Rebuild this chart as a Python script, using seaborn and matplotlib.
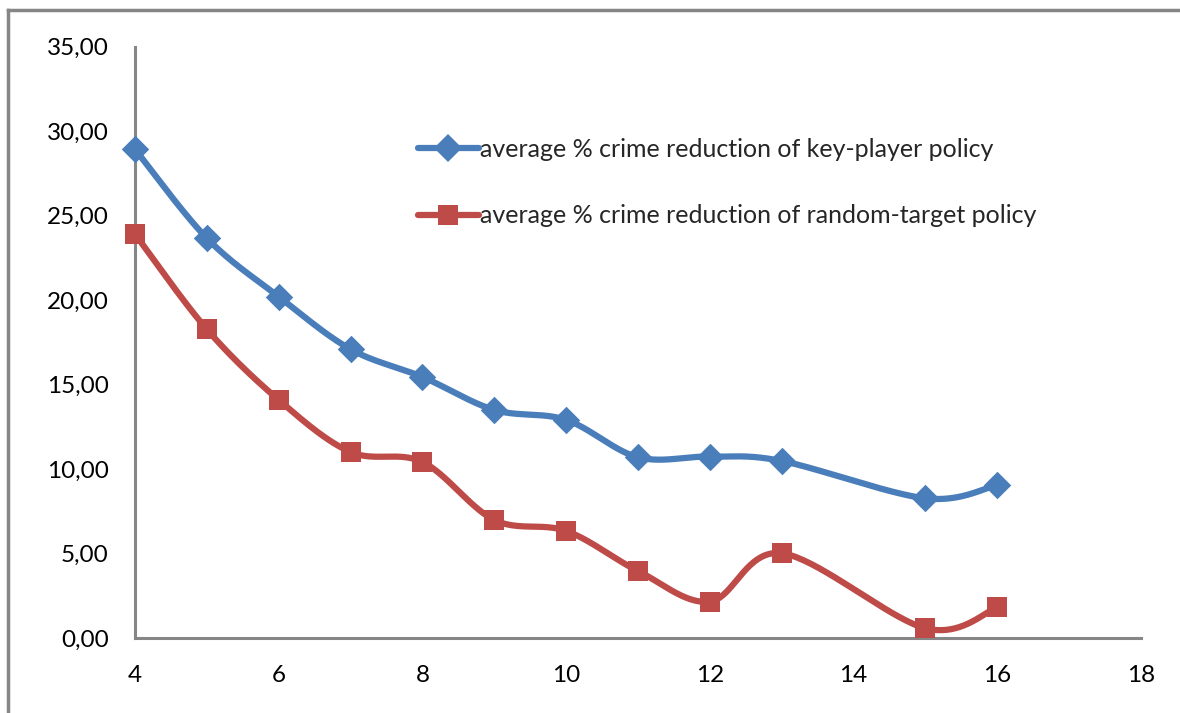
import numpy as np
import pandas as pd
import matplotlib
matplotlib.use("Agg")
import matplotlib.pyplot as plt
from matplotlib.lines import Line2D
import seaborn as sns

# Number of targeted players (x) and average % crime reduction per policy
players = [4, 5, 6, 7, 8, 9, 10, 11, 12, 13, 15, 16]
key_player = [28.93, 23.67, 20.21, 17.10, 15.46, 13.51, 12.92, 10.71, 10.75, 10.49, 8.28, 9.07]
random_target = [23.91, 18.28, 14.10, 11.02, 10.43, 7.00, 6.35, 3.98, 2.17, 5.03, 0.59, 1.83]

label_key = "average % crime reduction of key-player policy"
label_rand = "average % crime reduction of random-target policy"

x_ticks = [4, 6, 8, 10, 12, 14, 16, 18]
y_ticks = [0, 5, 10, 15, 20, 25, 30, 35]

BLUE = "#4A7EBB"
RED = "#BE4B48"


def smooth_curve(xs, ys, steps=40):
    """Spreadsheet-style smoothed line: cubic Bezier segments with
    Catmull-Rom control points through every data point."""
    p = np.column_stack([xs, ys]).astype(float)
    n = len(p)
    out = []
    for i in range(n - 1):
        p0 = p[i - 1] if i > 0 else p[i]
        p1, p2 = p[i], p[i + 1]
        p3 = p[i + 2] if i + 2 < n else p[i + 1]
        c1 = p1 + (p2 - p0) / 6.0
        c2 = p2 - (p3 - p1) / 6.0
        t = np.linspace(0, 1, steps)[:, None]
        seg = ((1 - t) ** 3) * p1 + 3 * ((1 - t) ** 2) * t * c1 + 3 * (1 - t) * t ** 2 * c2 + t ** 3 * p2
        out.append(seg if i == 0 else seg[1:])
    c = np.vstack(out)
    return pd.DataFrame({"x": c[:, 0], "y": c[:, 1]})


sns.set_theme(style="white")
plt.rcParams["font.family"] = ["Lato", "DejaVu Sans"]

fig = plt.figure(figsize=(11.8, 7.13), dpi=100)
ax = fig.add_axes([0.1144, 0.1048, 0.8526, 0.8297])

series = [
    (key_player, BLUE, "D", 14, label_key),
    (random_target, RED, "s", 15, label_rand),
]
for vals, color, marker, msize, _ in series:
    curve = smooth_curve(players, vals)
    sns.lineplot(data=curve, x="x", y="y", ax=ax, color=color, linewidth=4.5,
                 sort=False, estimator=None, legend=False, zorder=3)
    pts = pd.DataFrame({"x": players, "y": vals})
    sns.scatterplot(data=pts, x="x", y="y", ax=ax, color=color, marker=marker,
                    s=msize ** 2, edgecolor=color, linewidth=0, legend=False,
                    zorder=4, clip_on=False)

ax.set_xlim(4, 18)
ax.set_ylim(0, 35)
ax.set_xticks(x_ticks)
ax.set_yticks(y_ticks)
ax.set_xticklabels([str(v) for v in x_ticks])
ax.set_yticklabels([f"{v:.2f}".replace(".", ",") for v in y_ticks])
ax.set_xlabel("")
ax.set_ylabel("")
ax.tick_params(axis="both", length=0, labelsize=17.5, colors="black")
ax.tick_params(axis="y", pad=19)
ax.tick_params(axis="x", pad=19)
for side in ["top", "right"]:
    ax.spines[side].set_visible(False)
for side in ["left", "bottom"]:
    ax.spines[side].set_color("#868686")
    ax.spines[side].set_linewidth(2.2)

handles = [
    Line2D([], [], color=c, linewidth=4.5, marker=m, markersize=ms, markeredgewidth=0)
    for _, c, m, ms, _ in series
]
ax.legend(handles, [s[4] for s in series], loc="upper left",
          bbox_to_anchor=(0.354, 0.807), bbox_transform=fig.transFigure,
          frameon=False, fontsize=18, handlelength=2.45, handletextpad=0.05,
          labelspacing=1.75, numpoints=1, borderpad=0, borderaxespad=0)

# Chart-area frame (top and left edges; the rest runs past the canvas)
fx, fy = 8 / 1180, 1 - 10 / 713
fig.add_artist(Line2D([fx, fx], [-0.1, fy], transform=fig.transFigure,
                      color="#868686", linewidth=2.5, solid_capstyle="projecting"))
fig.add_artist(Line2D([fx, 1.1], [fy, fy], transform=fig.transFigure,
                      color="#868686", linewidth=2.5, solid_capstyle="projecting"))

fig.savefig("out.png", dpi=100)
